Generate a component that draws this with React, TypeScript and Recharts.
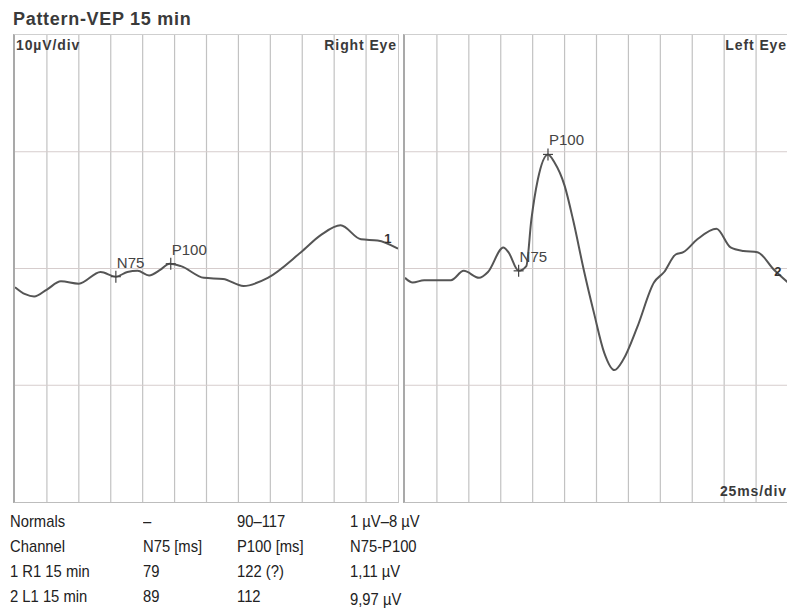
import React from "react";
import { LineChart, Line, XAxis, YAxis, ReferenceLine, ReferenceDot } from "recharts";

// 25 ms/div across 300 ms, 10 µV/div across ±20 µV
const TIME_GRID = [25, 50, 75, 100, 125, 150, 175, 200, 225, 250, 275];
const AMP_GRID = [-10, 0, 10];

// Right eye (channel 1) trace
const RIGHT_MS = [0, 8, 15, 25, 36, 50, 67, 79, 88, 96, 105, 114, 121, 130, 148, 163, 179, 198, 224, 240, 255, 271, 284, 300];
const RIGHT_UV = [-1.6, -2.2, -2.4, -1.8, -1.1, -1.3, -0.3, -0.7, -0.3, -0.2, -0.6, -0.1, 0.41, 0.2, -0.8, -0.9, -1.5, -0.8, 1.4, 2.9, 3.7, 2.5, 2.4, 1.7];

// Left eye (channel 2) trace
const LEFT_MS = [0, 6, 15, 36, 46, 58, 65, 77, 81, 89, 95, 99, 104, 112, 117, 125, 132, 140, 148, 156, 164, 171, 182, 195, 203, 212, 218, 229, 244, 255, 265, 276, 289, 300];
const LEFT_UV = [-0.8, -1.2, -1.0, -1.0, -0.2, -0.8, -0.3, 1.8, 1.4, -0.2, 0.2, 4.2, 7.6, 9.77, 9.1, 7.1, 4.0, -0.1, -3.8, -7.2, -8.7, -7.8, -5.0, -1.2, -0.3, 1.2, 1.4, 2.5, 3.4, 1.8, 1.5, 1.4, -0.1, -1.2];

const RIGHT_PEAKS = [
  { name: "N75", ms: 79, uv: -0.7 },
  { name: "P100", ms: 122, uv: 0.41 },
];
const LEFT_PEAKS = [
  { name: "N75", ms: 89, uv: -0.2 },
  { name: "P100", ms: 112, uv: 9.77 },
];

const TABLE_ROWS = [
  ["Normals", "–", "90–117", "1 µV–8 µV"],
  ["Channel", "N75 [ms]", "P100 [ms]", "N75-P100"],
  ["1 R1 15 min", "79", "122 (?)", "1,11 µV"],
  ["2 L1 15 min", "89", "112", "9,97 µV"],
];
const TABLE_COLS = [10, 143, 237, 350];

const FONT = "Liberation Sans, Arial, sans-serif";
const TRACE = "#555";
const GRID_V = "#c2c2c2";
const GRID_H = "#d6cdcd";
const PLOT_W = 383;
const PLOT_H = 467;

const zip = (ms: number[], uv: number[]) => ms.map((t, i) => ({ t, v: uv[i] }));

function Cross(props: any) {
  const { cx, cy, label } = props;
  return (
    <g>
      <line x1={cx - 5} x2={cx + 5} y1={cy} y2={cy} stroke="#444" strokeWidth={1.2} />
      <line x1={cx} x2={cx} y1={cy - 6} y2={cy + 6} stroke="#444" strokeWidth={1.2} />
      <text x={cx + 1} y={cy - 9} fontSize={15} fill="#444" fontFamily={FONT}>
        {label}
      </text>
    </g>
  );
}

function Panel({
  data,
  peaks,
  left,
  eye,
  channel,
  channelAt,
  scaleNote,
}: {
  data: { t: number; v: number }[];
  peaks: { name: string; ms: number; uv: number }[];
  left: number;
  eye: string;
  channel: string;
  channelAt: [number, number];
  scaleNote?: boolean;
}) {
  const bold = {
    fontFamily: FONT,
    fontWeight: 700,
    fontSize: 14,
    letterSpacing: 0.9,
    color: "#3a3a3a",
    position: "absolute" as const,
  };
  return (
    <div
      style={{
        position: "absolute",
        left: left - 1,
        top: 34,
        width: PLOT_W,
        height: PLOT_H,
        borderTop: "1px solid #cfcfcf",
        borderBottom: "1px solid #bdbdbd",
        borderRight: "1px solid #c8c8c8",
        borderLeft: "2px solid #a9a9a9",
      }}
    >
      <div style={{ position: "absolute", left: 0, top: 0 }}>
        <LineChart width={PLOT_W} height={PLOT_H} data={data} margin={{ top: 0, right: 0, bottom: 0, left: 0 }}>
          <XAxis dataKey="t" type="number" domain={[0, 300]} hide />
          <YAxis type="number" domain={[-20, 20]} hide />
          {TIME_GRID.map((t) => (
            <ReferenceLine key={"x" + t} x={t} stroke={GRID_V} strokeWidth={1.2} />
          ))}
          {AMP_GRID.map((a) => (
            <ReferenceLine key={"y" + a} y={a} stroke={GRID_H} strokeWidth={1.2} />
          ))}
          <Line type="monotone" dataKey="v" stroke={TRACE} strokeWidth={2} dot={false} isAnimationActive={false} />
          {peaks.map((p) => (
            <ReferenceDot key={p.name} x={p.ms} y={p.uv} r={5} shape={(s: any) => <Cross {...s} label={p.name} />} />
          ))}
          <ReferenceDot
            x={channelAt[0]}
            y={channelAt[1]}
            r={4}
            shape={(s: any) => (
              <text x={s.cx} y={s.cy + 5} textAnchor="middle" fontSize={13} fontWeight={700} fill="#333" fontFamily={FONT}>
                {channel}
              </text>
            )}
          />
        </LineChart>
      </div>
      {!scaleNote && <div style={{ ...bold, left: 1, top: 2 }}>10µV/div</div>}
      <div style={{ ...bold, right: 1, top: 2 }}>{eye}</div>
      {scaleNote && <div style={{ ...bold, right: 1, bottom: 3 }}>25ms/div</div>}
    </div>
  );
}

export default function App() {
  return (
    <div style={{ position: "relative", width: 787, height: 610, background: "#fff", overflow: "hidden" }}>
      <style>{"body{margin:0}"}</style>
      <div
        style={{
          position: "absolute",
          left: 13,
          top: 9,
          fontFamily: FONT,
          fontWeight: 700,
          fontSize: 18,
          letterSpacing: 0.7,
          color: "#3a3a3a",
        }}
      >
        Pattern-VEP 15 min
      </div>
      <Panel data={zip(RIGHT_MS, RIGHT_UV)} peaks={RIGHT_PEAKS} left={14} eye="Right Eye" channel="1" channelAt={[292, 2.65]} />
      <Panel data={zip(LEFT_MS, LEFT_UV)} peaks={LEFT_PEAKS} left={404} eye="Left Eye" channel="2" channelAt={[292, -0.2]} scaleNote />
      {TABLE_ROWS.map((row, r) =>
        row.map((cell, c) => (
          <div
            key={r + "-" + c}
            style={{
              position: "absolute",
              left: TABLE_COLS[c],
              top: 512 + r * 25 + (r === 3 && c === 3 ? 3 : 0),
              fontFamily: "'Liberation Sans Narrow', 'Arial Narrow', " + FONT,
              fontSize: 17,
              color: "#222",
              whiteSpace: "nowrap",
              transform: "scaleX(0.87)",
              transformOrigin: "left center",
            }}
          >
            {cell}
          </div>
        ))
      )}
    </div>
  );
}
